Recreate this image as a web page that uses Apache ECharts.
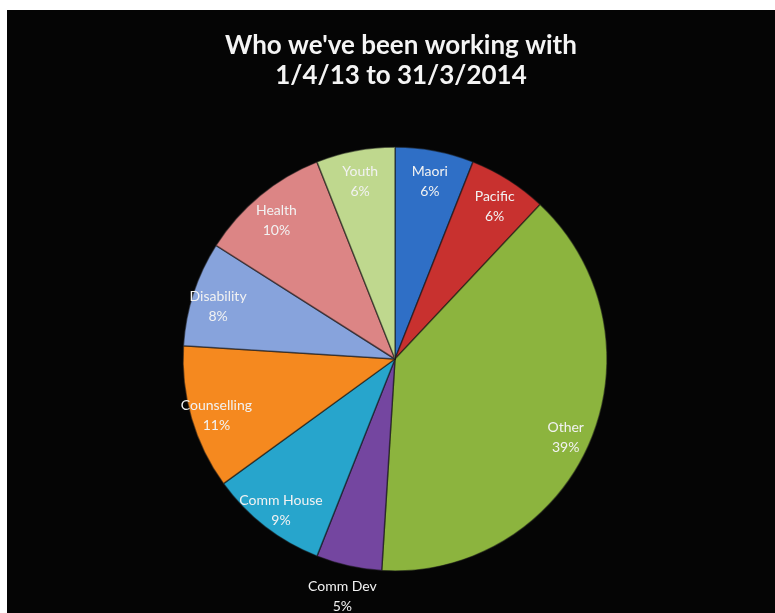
<!DOCTYPE html>
<html>
<head>
<meta charset="utf-8">
<script src="https://cdn.jsdelivr.net/npm/echarts@6/dist/echarts.min.js"></script>
<style>
  html, body { margin: 0; padding: 0; background: #ffffff; }
  #chart { position: absolute; left: 7px; top: 10px; width: 768px; height: 603px; background: #050505; }
</style>
</head>
<body>
<div id="chart"></div>
<script>
// Who we've been working with, 1/4/13 to 31/3/2014 (share of groups, %)
const categories = ['Maori', 'Pacific', 'Other', 'Comm Dev', 'Comm House', 'Counselling', 'Disability', 'Health', 'Youth'];
const shares = [6, 6, 39, 5, 9, 11, 8, 10, 6];
const sliceColors = ['#2f6fc6', '#c8312f', '#8cb43e', '#7446a0', '#27a5cc', '#f5891f', '#87a3dc', '#dc8585', '#bfd88e'];
const titleLines = ["Who we've been working with", '1/4/13 to 31/3/2014'];

const center = [388, 349];
const outerR = 212;

const chart = echarts.init(document.getElementById('chart'), null, { renderer: 'canvas' });

const sliceData = categories.map((name, i) => ({
  name: name,
  value: shares[i],
  itemStyle: { color: sliceColors[i] }
}));

// Transparent ring that only carries the labels, so they sit near the rim
const labelData = categories.map((name, i) => {
  const item = { name: name, value: shares[i] };
  if (name === 'Comm Dev') {
    item.label = { offset: [-12, 56] };
  }
  return item;
});

chart.setOption({
  backgroundColor: '#050505',
  animation: false,
  title: {
    text: titleLines.join('\n'),
    left: 389,
    top: 16,
    textAlign: 'center',
    textStyle: {
      color: '#f4f4f4',
      fontFamily: 'Lato',
      fontWeight: 'bold',
      fontSize: 26,
      lineHeight: 30
    }
  },
  series: [
    {
      type: 'pie',
      center: center,
      radius: [0, outerR],
      startAngle: 90,
      clockwise: true,
      silent: true,
      label: { show: false },
      labelLine: { show: false },
      itemStyle: { borderColor: 'rgba(20,20,20,0.55)', borderWidth: 1.5 },
      data: sliceData
    },
    {
      type: 'pie',
      center: center,
      radius: [154, outerR],
      startAngle: 90,
      clockwise: true,
      silent: true,
      avoidLabelOverlap: false,
      itemStyle: { color: 'rgba(0,0,0,0)', borderWidth: 0 },
      labelLine: { show: false },
      label: {
        show: true,
        position: 'inside',
        offset: [0, 5],
        formatter: '{b}\n{d}%',
        color: '#f2f2f2',
        fontFamily: 'Lato',
        fontSize: 14,
        lineHeight: 20,
        align: 'center'
      },
      data: labelData
    }
  ]
});
</script>
</body>
</html>
